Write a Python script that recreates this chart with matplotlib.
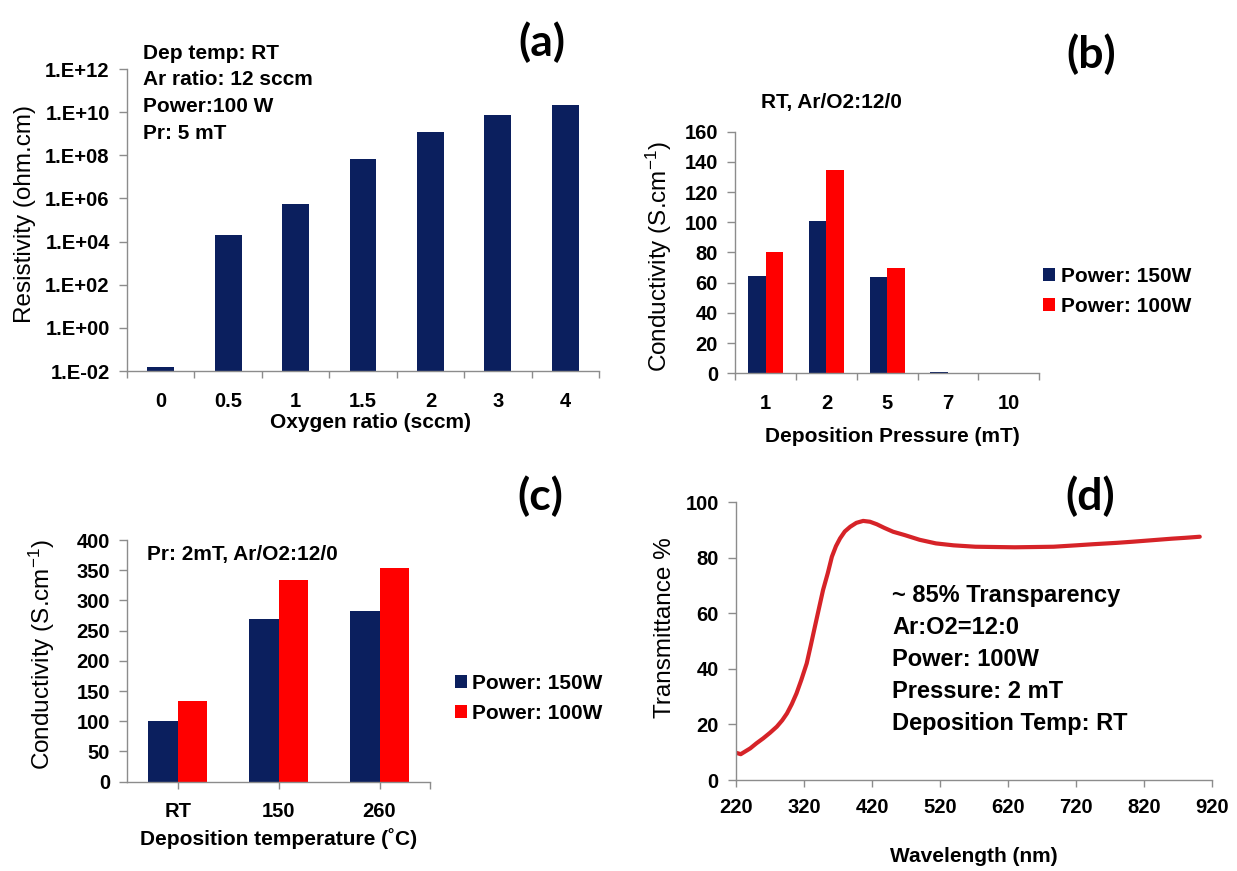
import numpy as np
import matplotlib
matplotlib.use("Agg")
import matplotlib.pyplot as plt
from matplotlib.ticker import NullLocator

plt.rcParams["font.family"] = ["Liberation Sans", "DejaVu Sans"]
plt.rcParams["mathtext.fontset"] = "custom"
plt.rcParams["mathtext.rm"] = "Liberation Sans"
plt.rcParams["mathtext.it"] = "Liberation Sans:italic"
plt.rcParams["mathtext.bf"] = "Liberation Sans:bold"

# ---------------- data ----------------
# (a) resistivity vs oxygen flow
oxygen_labels = ["0", "0.5", "1", "1.5", "2", "3", "4"]
resistivity = [1.5e-2, 2.0e4, 5.4e5, 6.8e7, 1.2e9, 7.0e9, 2.1e10]
res_tick_values = [1e-2, 1e0, 1e2, 1e4, 1e6, 1e8, 1e10, 1e12]
res_tick_labels = ["1.E-02", "1.E+00", "1.E+02", "1.E+04", "1.E+06",
                   "1.E+08", "1.E+10", "1.E+12"]

# (b) conductivity vs deposition pressure
pressure_labels = ["1", "2", "5", "7", "10"]
cond_p_150w = [64.6, 100.9, 64.0, 1.0, 0.5]
cond_p_100w = [80.5, 134.6, 69.5, 0.5, 0.5]

# (c) conductivity vs deposition temperature
temp_labels = ["RT", "150", "260"]
cond_t_150w = [101, 270, 282]
cond_t_100w = [134, 334, 354]

# (d) optical transmittance
wavelength = [220, 227, 233, 241, 250, 260, 270, 280, 288, 295, 302, 309,
              316, 324, 330, 336, 342, 348, 355, 361, 367, 373, 380, 388,
              397, 407, 417, 427, 438, 451, 468, 490, 514, 540, 572, 600,
              630, 660, 687, 720, 745, 780, 803, 840, 861, 880, 902]
transmittance = [9.8, 9.3, 10.2, 11.4, 13.2, 15.0, 17.0, 19.2, 21.5, 24.0,
                 27.3, 31.2, 36.0, 42.0, 48.5, 55.2, 61.8, 68.4, 74.5, 80.4,
                 84.2, 87.0, 89.5, 91.2, 92.6, 93.3, 93.0, 92.1, 90.8, 89.4,
                 88.2, 86.5, 85.2, 84.5, 84.0, 83.9, 83.8, 83.9, 84.0, 84.5,
                 84.9, 85.4, 85.8, 86.5, 86.9, 87.2, 87.6]

series_labels = ["Power: 150W", "Power: 100W"]

NAVY = "#0b1f5e"
RED = "#ff0000"
LINE_RED = "#d62328"
GREY = "#8c8c8c"

W, H = 1237, 871
fig = plt.figure(figsize=(W / 100, H / 100), dpi=100)


def axes_px(left, top, right, bottom):
    return fig.add_axes([left / W, 1 - bottom / H, (right - left) / W, (bottom - top) / H])


def style(ax):
    for s in ("top", "right"):
        ax.spines[s].set_visible(False)
    for s in ("left", "bottom"):
        ax.spines[s].set_color(GREY)
        ax.spines[s].set_linewidth(1.0)
    ax.tick_params(which="both", color=GREY, direction="out", width=1.0,
                   labelsize=14.5)
    ax.tick_params(axis="y", length=5.5, pad=7)


def ylabel(ax, text, x, y):
    ax.set_ylabel(text, fontsize=17.5, va="center", ha="center")
    ax.yaxis.set_label_coords(x, y)


def xlabel(ax, text, x, y):
    ax.set_xlabel(text, fontsize=15, fontweight="bold", va="center", ha="center")
    ax.xaxis.set_label_coords(x, y)


def category_axis(ax, labels, boundary_ticks=True):
    n = len(labels)
    pos = np.arange(n)
    ax.set_xlim(-0.5, n - 0.5)
    ax.set_xticks(pos)
    ax.set_xticklabels(labels, fontweight="bold")
    if boundary_ticks:
        ax.set_xticks(np.arange(n + 1) - 0.5, minor=True)
        ax.tick_params(axis="x", which="major", length=0, pad=15)
        ax.tick_params(axis="x", which="minor", length=5.3)
    else:
        ax.set_xticks([n - 0.5], minor=True)
        ax.tick_params(axis="x", which="both", length=5.3, pad=9)
    return pos


# ---------------- (a) ----------------
ax_a = axes_px(127, 69, 599, 371)
style(ax_a)
x = category_axis(ax_a, oxygen_labels)
ax_a.bar(x, resistivity, width=0.4, color=NAVY)
ax_a.set_yscale("log")
ax_a.set_ylim(1e-2, 1e12)
ax_a.set_yticks(res_tick_values)
ax_a.set_yticklabels(res_tick_labels, fontweight="bold")
ax_a.yaxis.set_minor_locator(NullLocator())
ylabel(ax_a, "Resistivity (ohm.cm)", -0.217, 0.52)
xlabel(ax_a, "Oxygen ratio (sccm)", 0.516, -0.172)
for i, line in enumerate(["Dep temp: RT", "Ar ratio: 12 sccm", "Power:100 W", "Pr: 5 mT"]):
    ax_a.text(0.034, 1.052 - i * 0.0883, line, transform=ax_a.transAxes,
              fontsize=15, fontweight="bold", va="center", ha="left")

# ---------------- (b) ----------------
ax_b = axes_px(735.4, 131.7, 1039, 373.3)
style(ax_b)
x = category_axis(ax_b, pressure_labels)
bw = 0.29
ax_b.bar(x - bw / 2, cond_p_150w, width=bw, color=NAVY, label=series_labels[0])
ax_b.bar(x + bw / 2, cond_p_100w, width=bw, color=RED, label=series_labels[1])
ax_b.set_ylim(0, 160)
ax_b.set_yticks(np.arange(0, 161, 20))
ax_b.set_yticklabels([str(v) for v in range(0, 161, 20)], fontweight="bold")
ylabel(ax_b, r"Conductivity (S.cm$^{\mathregular{-1}}$)", -0.253, 0.483)
xlabel(ax_b, "Deposition Pressure (mT)", 0.518, -0.26)
ax_b.text(0.3165, 1.119, "RT, Ar/O2:12/0", transform=ax_b.transAxes,
          fontsize=15, fontweight="bold", va="center", ha="center")
ax_b.legend(loc="center left", bbox_to_anchor=(1.013, 0.339), frameon=False,
            prop={"size": 15, "weight": "bold"}, handlelength=0.6,
            handleheight=0.6, handletextpad=0.25, labelspacing=0.55,
            borderpad=0, borderaxespad=0)

# ---------------- (c) ----------------
ax_c = axes_px(127.3, 540, 430, 781.7)
style(ax_c)
x = category_axis(ax_c, temp_labels, boundary_ticks=False)
ax_c.bar(x - bw / 2, cond_t_150w, width=bw, color=NAVY, label=series_labels[0])
ax_c.bar(x + bw / 2, cond_t_100w, width=bw, color=RED, label=series_labels[1])
ax_c.set_ylim(0, 400)
ax_c.set_yticks(np.arange(0, 401, 50))
ax_c.set_yticklabels([str(v) for v in range(0, 401, 50)], fontweight="bold")
ylabel(ax_c, r"Conductivity (S.cm$^{\mathregular{-1}}$)", -0.283, 0.528)
xlabel(ax_c, "Deposition temperature (\u02daC)", 0.5, -0.234)
ax_c.text(0.065, 0.938, "Pr: 2mT, Ar/O2:12/0", transform=ax_c.transAxes,
          fontsize=15, fontweight="bold", va="center", ha="left")
ax_c.legend(loc="center left", bbox_to_anchor=(1.081, 0.345), frameon=False,
            prop={"size": 15, "weight": "bold"}, handlelength=0.6,
            handleheight=0.6, handletextpad=0.25, labelspacing=0.55,
            borderpad=0, borderaxespad=0)

# ---------------- (d) ----------------
ax_d = axes_px(736, 502.3, 1212, 780)
style(ax_d)
ax_d.plot(wavelength, transmittance, color=LINE_RED, lw=3,
          solid_joinstyle="round", solid_capstyle="round")
ax_d.set_xlim(220, 920)
ax_d.set_ylim(0, 100)
ax_d.set_xticks(np.arange(220, 921, 100))
ax_d.set_xticklabels([str(v) for v in range(220, 921, 100)], fontweight="bold")
ax_d.set_yticks(np.arange(0, 101, 20))
ax_d.set_yticklabels([str(v) for v in range(0, 101, 20)], fontweight="bold")
ax_d.tick_params(axis="x", length=5.3, pad=8)
ylabel(ax_d, "Transmittance %", -0.150, 0.547)
xlabel(ax_d, "Wavelength (nm)", 0.5, -0.276)
notes = ["~ 85% Transparency", "Ar:O2=12:0", "Power: 100W",
         "Pressure: 2 mT", "Deposition Temp: RT"]
for i, line in enumerate(notes):
    ax_d.text(0.328, 0.666 - i * 0.1155, line, transform=ax_d.transAxes,
              fontsize=17, fontweight="bold", va="center", ha="left")

# ---------------- panel letters ----------------
for letter, (px, py) in zip(["(a)", "(b)", "(c)", "(d)"],
                            [(541.7, 42), (1091, 54), (540.5, 496.5), (1090, 496.5)]):
    fig.text(px / W, 1 - py / H, letter, fontsize=32, fontweight="bold",
             family=["Lato", "DejaVu Sans"], ha="center", va="center")

fig.savefig("out.png", dpi=100, facecolor="white")
